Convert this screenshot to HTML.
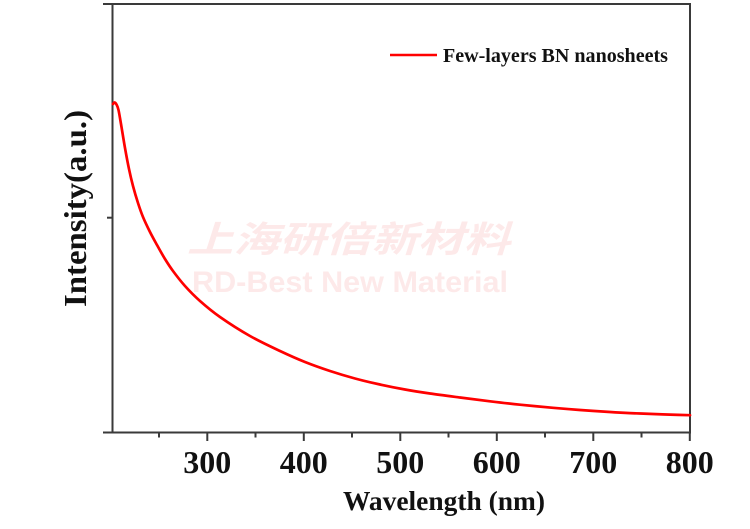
<!DOCTYPE html>
<html>
<head>
<meta charset="utf-8">
<style>
  html, body { margin:0; padding:0; background:#fff; }
  svg { display:block; }
  .tick { font-family:"Liberation Serif", "Times New Roman", serif; font-weight:bold; font-size:32px; fill:#111; }
</style>
</head>
<body>
<svg width="750" height="529" viewBox="0 0 750 529" xmlns="http://www.w3.org/2000/svg">
  <rect x="0" y="0" width="750" height="529" fill="#fff"/>

  <!-- watermark -->
  <text x="187" y="252" font-family="'Liberation Sans','Noto Sans CJK SC',sans-serif" font-weight="bold" font-style="italic" font-size="36" fill="#fde9e9" textLength="323" lengthAdjust="spacingAndGlyphs">上海研倍新材料</text>
  <text x="192" y="292" font-family="'Liberation Sans',sans-serif" font-weight="bold" font-size="30" fill="#fde9e9" textLength="316" lengthAdjust="spacingAndGlyphs">RD-Best New Material</text>

  <!-- frame -->
  <g stroke="#3a3a3a" stroke-width="2" fill="none">
    <line x1="103" y1="4" x2="691" y2="4"/>
    <line x1="103" y1="432.5" x2="691" y2="432.5"/>
    <line x1="112.5" y1="3" x2="112.5" y2="433"/>
    <line x1="690" y1="3" x2="690" y2="433"/>
    <line x1="107" y1="217.7" x2="112.5" y2="217.7"/>
    <line x1="207.3" y1="432" x2="207.3" y2="441"/>
    <line x1="303.8" y1="432" x2="303.8" y2="441"/>
    <line x1="400.3" y1="432" x2="400.3" y2="441"/>
    <line x1="496.8" y1="432" x2="496.8" y2="441"/>
    <line x1="593.3" y1="432" x2="593.3" y2="441"/>
    <line x1="689.8" y1="432" x2="689.8" y2="441"/>
    <line x1="159" y1="432" x2="159" y2="437.5"/>
    <line x1="255.5" y1="432" x2="255.5" y2="437.5"/>
    <line x1="352" y1="432" x2="352" y2="437.5"/>
    <line x1="448.5" y1="432" x2="448.5" y2="437.5"/>
    <line x1="545" y1="432" x2="545" y2="437.5"/>
    <line x1="641.5" y1="432" x2="641.5" y2="437.5"/>
  </g>

  <!-- tick labels -->
  <g class="tick" text-anchor="middle">
    <text x="207.3" y="473">300</text>
    <text x="303.8" y="473">400</text>
    <text x="400.3" y="473">500</text>
    <text x="496.8" y="473">600</text>
    <text x="593.3" y="473">700</text>
    <text x="689.8" y="473">800</text>
  </g>

  <!-- axis labels -->
  <text x="343" y="510" font-family="'Liberation Serif','Times New Roman',serif" font-weight="bold" font-size="27" fill="#111" textLength="202" lengthAdjust="spacingAndGlyphs">Wavelength (nm)</text>
  <text transform="translate(86,307) rotate(-90)" x="0" y="0" font-family="'Liberation Serif','Times New Roman',serif" font-weight="bold" font-size="32" fill="#111" textLength="197" lengthAdjust="spacingAndGlyphs">Intensity(a.u.)</text>

  <!-- legend -->
  <line x1="390" y1="55" x2="437" y2="55" stroke="#ff0000" stroke-width="2.5"/>
  <text x="443" y="62" font-family="'Liberation Serif','Times New Roman',serif" font-weight="bold" font-size="20" fill="#111" textLength="225" lengthAdjust="spacingAndGlyphs">Few-layers BN nanosheets</text>

  <!-- curve -->
  <polyline id="curve" fill="none" stroke="#ff0000" stroke-width="2.7" stroke-linejoin="round" stroke-linecap="round"
    points="113,104 114.5,102.5 116.5,104.5 118.5,110 121,124 125,148 129,169 133,186 138,203 143,217 150,232 157,245 165,259 173,271 185,286 200,301 220,317 250,336 280,351 305,362 330,371 355,378.5 380,384.5 405,389.5 430,393.5 460,397.5 490,401.3 520,404.7 553,407.8 580,410 610,412 630,413.1 653,414 670,414.6 690,415.2"/>
  <path id="smooth" fill="none" stroke="#ff0000" stroke-width="2.7" stroke-linejoin="round" stroke-linecap="round" d=""/>
</svg>
<script>
(function(){
  var pl = document.getElementById('curve');
  var raw = pl.getAttribute('points').trim().split(/\s+/).map(function(s){var a=s.split(',');return [parseFloat(a[0]),parseFloat(a[1])];});
  var d = 'M' + raw[0][0] + ',' + raw[0][1];
  for (var i=0;i<raw.length-1;i++){
    var p0 = raw[i>0?i-1:i], p1 = raw[i], p2 = raw[i+1], p3 = raw[i+2<raw.length?i+2:i+1];
    var c1x = p1[0] + (p2[0]-p0[0])/6, c1y = p1[1] + (p2[1]-p0[1])/6;
    var c2x = p2[0] - (p3[0]-p1[0])/6, c2y = p2[1] - (p3[1]-p1[1])/6;
    d += ' C' + c1x.toFixed(2) + ',' + c1y.toFixed(2) + ' ' + c2x.toFixed(2) + ',' + c2y.toFixed(2) + ' ' + p2[0] + ',' + p2[1];
  }
  document.getElementById('smooth').setAttribute('d', d);
  pl.setAttribute('stroke','none');
})();
</script>
</body>
</html>
